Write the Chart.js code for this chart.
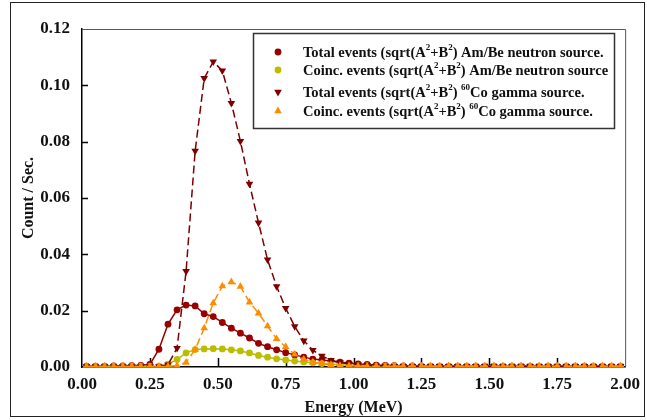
<!DOCTYPE html>
<html>
<head>
<meta charset="utf-8">
<script src="https://cdn.jsdelivr.net/npm/chart.js@4.4.0/dist/chart.umd.min.js"></script>
<style>
  html, body { margin: 0; padding: 0; background: #fff; }
  #wrap { width: 647px; height: 420px; position: relative; }
</style>
</head>
<body>
<div id="wrap"><canvas id="spec"></canvas></div>
<script>
// energy bins (MeV)
const energy = [
  0.0167, 0.05, 0.0833, 0.1167, 0.15, 0.1833, 0.2167, 0.25, 0.2833, 0.3167,
  0.35, 0.3833, 0.4167, 0.45, 0.4833, 0.5167, 0.55, 0.5833, 0.6167, 0.65,
  0.6833, 0.7167, 0.75, 0.7833, 0.8167, 0.85, 0.8833, 0.9167, 0.95, 0.9833,
  1.0167, 1.05, 1.0833, 1.1167, 1.15, 1.1833, 1.2167, 1.25, 1.2833, 1.3167,
  1.35, 1.3833, 1.4167, 1.45, 1.4833, 1.5167, 1.55, 1.5833, 1.6167, 1.65,
  1.6833, 1.7167, 1.75, 1.7833, 1.8167, 1.85, 1.8833, 1.9167, 1.95, 1.9833
];

const totalAmBe = [
  0.0003, 0.0003, 0.0003, 0.0004, 0.0004, 0.0005, 0.0006, 0.0009, 0.0063, 0.0152,
  0.0203, 0.0220, 0.0217, 0.0189, 0.0179, 0.0158, 0.0138, 0.0120, 0.0103, 0.0084,
  0.0072, 0.0061, 0.0051, 0.0043, 0.0035, 0.0028, 0.0025, 0.0021, 0.0017, 0.0014,
  0.0011, 0.0009, 0.0007, 0.0006, 0.0005, 0.0004, 0.0004, 0.0003, 0.0003, 0.0003,
  0.0003, 0.0003, 0.0003, 0.0003, 0.0003, 0.0003, 0.0003, 0.0003, 0.0003, 0.0003,
  0.0003, 0.0003, 0.0003, 0.0003, 0.0003, 0.0003, 0.0003, 0.0003, 0.0003, 0.0003
];

const coincAmBe = [
  0.0002, 0.0002, 0.0002, 0.0002, 0.0002, 0.0002, 0.0002, 0.0002, 0.0003, 0.0010,
  0.0027, 0.0050, 0.0062, 0.0064, 0.0065, 0.0064, 0.0061, 0.0057, 0.0050, 0.0041,
  0.0035, 0.0029, 0.0025, 0.0021, 0.0018, 0.0015, 0.0012, 0.0010, 0.0008, 0.0006,
  0.0005, 0.0004, 0.0003, 0.0003, 0.0003, 0.0003, 0.0003, 0.0003, 0.0003, 0.0003,
  0.0003, 0.0003, 0.0003, 0.0003, 0.0003, 0.0003, 0.0003, 0.0003, 0.0003, 0.0003,
  0.0003, 0.0003, 0.0003, 0.0003, 0.0003, 0.0003, 0.0003, 0.0003, 0.0003, 0.0003
];

const totalCo = [
  0.0002, 0.0002, 0.0002, 0.0002, 0.0002, 0.0002, 0.0002, 0.0002, 0.0002, 0.0008,
  0.0067, 0.0340, 0.0767, 0.1025, 0.1084, 0.1052, 0.0937, 0.0802, 0.0650, 0.0512,
  0.0381, 0.0286, 0.0209, 0.0144, 0.0093, 0.0060, 0.0039, 0.0024, 0.0016, 0.0011,
  0.0008, 0.0006, 0.0005, 0.0004, 0.0003, 0.0003, 0.0003, 0.0003, 0.0003, 0.0003,
  0.0003, 0.0003, 0.0003, 0.0003, 0.0003, 0.0003, 0.0003, 0.0003, 0.0003, 0.0003,
  0.0003, 0.0003, 0.0003, 0.0003, 0.0003, 0.0003, 0.0003, 0.0003, 0.0003, 0.0003
];

const coincCo = [
  0.0002, 0.0002, 0.0002, 0.0002, 0.0002, 0.0002, 0.0002, 0.0002, 0.0002, 0.0002,
  0.0005, 0.0016, 0.0062, 0.0138, 0.0227, 0.0287, 0.0302, 0.0286, 0.0230, 0.0191,
  0.0145, 0.0100, 0.0072, 0.0045, 0.0027, 0.0017, 0.0012, 0.0008, 0.0005, 0.0004,
  0.0003, 0.0003, 0.0003, 0.0003, 0.0003, 0.0003, 0.0003, 0.0003, 0.0003, 0.0003,
  0.0003, 0.0003, 0.0003, 0.0003, 0.0003, 0.0003, 0.0003, 0.0003, 0.0003, 0.0003,
  0.0003, 0.0003, 0.0003, 0.0003, 0.0003, 0.0003, 0.0003, 0.0003, 0.0003, 0.0003
];

const seriesNames = [
  'Total events (sqrt(A²+B²) Am/Be neutron source.',
  'Coinc. events (sqrt(A²+B²) Am/Be neutron source',
  'Total events (sqrt(A²+B²) ⁶⁰Co gamma source.',
  'Coinc. events (sqrt(A²+B²) ⁶⁰Co gamma source.'
];

const xTickValues = [0, 0.25, 0.5, 0.75, 1, 1.25, 1.5, 1.75, 2];
const yTickValues = [0, 0.02, 0.04, 0.06, 0.08, 0.1, 0.12];

const FONT = '"Liberation Serif", "Times New Roman", serif';

function pts(vals) {
  return vals.map((v, i) => ({ x: energy[i], y: v }));
}

const styles = [
  { color: '#980000', style: 'circle', rot: 0, r: 3.4, dash: [], order: 3 },
  { color: '#bcbc00', style: 'circle', rot: 0, r: 3.4, dash: [], order: 2 },
  { color: '#7d0000', style: 'triangle', rot: 180, r: 4.4, dash: [8, 4], order: 1 },
  { color: '#ff8c00', style: 'triangle', rot: 0, r: 4.4, dash: [8, 4], order: 0 }
];

const allSeries = [totalAmBe, coincAmBe, totalCo, coincCo];

const datasets = allSeries.map((vals, k) => ({
  label: seriesNames[k],
  data: pts(vals),
  borderColor: styles[k].color,
  backgroundColor: styles[k].color,
  borderWidth: 1.5,
  borderDash: styles[k].dash,
  pointStyle: styles[k].style,
  rotation: styles[k].rot,
  pointRadius: styles[k].r,
  pointBorderWidth: 0,
  tension: 0,
  order: styles[k].order
}));

// draw text where unicode superscripts are raised and smaller
const supMap = { '²': '2', '⁶': '6', '⁰': '0' };
function drawRich(ctx, text, x, y) {
  const parts = text.split(/([²⁶⁰]+)/).filter(s => s.length);
  let cx = x;
  parts.forEach(p => {
    if (/^[²⁶⁰]+$/.test(p)) {
      const t = p.split('').map(c => supMap[c]).join('');
      ctx.font = 'bold 9px ' + FONT;
      ctx.fillText(t, cx, y - 5);
      cx += ctx.measureText(t).width;
    } else {
      ctx.font = 'bold 14.5px ' + FONT;
      ctx.fillText(p, cx, y);
      cx += ctx.measureText(p).width;
    }
  });
}

const decor = {
  id: 'decor',
  beforeDatasetsDraw(chart) {
    const { ctx, chartArea: a, scales: { x, y } } = chart;
    ctx.save();
    ctx.strokeStyle = '#555';
    ctx.lineWidth = 1;
    ctx.beginPath();
    ctx.moveTo(a.left, a.top + 0.5);
    ctx.lineTo(a.right + 0.5, a.top + 0.5);
    ctx.lineTo(a.right + 0.5, a.bottom);
    ctx.stroke();
    // inward tick marks
    ctx.strokeStyle = '#000';
    ctx.lineWidth = 1.5;
    ctx.beginPath();
    xTickValues.slice(1, -1).forEach(v => {
      const px = Math.round(x.getPixelForValue(v)) + 0.5;
      ctx.moveTo(px, a.bottom);
      ctx.lineTo(px, a.bottom - 9);
    });
    yTickValues.slice(1, -1).forEach(v => {
      const py = Math.round(y.getPixelForValue(v)) + 0.5;
      ctx.moveTo(a.left, py);
      ctx.lineTo(a.left + 6, py);
    });
    ctx.stroke();
    ctx.restore();
  },
  afterDraw(chart) {
    const ctx = chart.ctx;
    ctx.save();
    // legend box
    ctx.fillStyle = '#fff';
    ctx.fillRect(253, 33, 361, 96);
    ctx.strokeStyle = '#333';
    ctx.lineWidth = 1.5;
    ctx.strokeRect(253.5, 33.5, 361, 95);
    const rowY = [52, 70, 92, 111];
    chart.data.datasets.forEach((ds, k) => {
      const st = styles[k];
      ctx.fillStyle = st.color;
      if (st.style === 'circle') {
        ctx.beginPath();
        ctx.arc(278, rowY[k], 3.4, 0, Math.PI * 2);
        ctx.fill();
      } else {
        const r = 4.4, cy = rowY[k];
        const dir = st.rot === 180 ? 1 : -1;
        ctx.beginPath();
        ctx.moveTo(278, cy + dir * r);
        ctx.lineTo(278 - r * 0.866, cy - dir * r * 0.5);
        ctx.lineTo(278 + r * 0.866, cy - dir * r * 0.5);
        ctx.closePath();
        ctx.fill();
      }
      ctx.fillStyle = '#111';
      ctx.textBaseline = 'middle';
      ctx.textAlign = 'left';
      drawRich(ctx, ds.label, 303, rowY[k] + 1);
    });
    // outer frame
    ctx.strokeStyle = '#222';
    ctx.lineWidth = 1;
    ctx.strokeRect(10.5, 2.5, 634, 414);
    ctx.restore();
  }
};

new Chart(document.getElementById('spec'), {
  type: 'line',
  data: { datasets: datasets },
  options: {
    responsive: true,
    maintainAspectRatio: false,
    animation: false,
    layout: { padding: { left: 0, top: 29, right: 18, bottom: 0 } },
    plugins: {
      legend: { display: false },
      tooltip: { enabled: false }
    },
    scales: {
      x: {
        type: 'linear',
        min: 0,
        max: 2,
        afterFit(s) { s.height = 53; },
        afterBuildTicks(s) { s.ticks = xTickValues.map(v => ({ value: v })); },
        grid: { drawOnChartArea: false, drawTicks: false },
        border: { display: true, color: '#000', width: 1.5 },
        ticks: {
          padding: 7,
          color: '#111',
          font: { family: FONT, size: 17, weight: 'bold' },
          maxRotation: 0,
          callback: v => Number(v).toFixed(2)
        },
        title: {
          display: true,
          text: 'Energy (MeV)',
          color: '#111',
          font: { family: FONT, size: 16, weight: 'bold' },
          padding: { top: 0, bottom: 3 }
        }
      },
      y: {
        min: 0,
        max: 0.12,
        afterFit(s) { s.width = 82; },
        afterBuildTicks(s) { s.ticks = yTickValues.map(v => ({ value: v })); },
        grid: { drawOnChartArea: false, drawTicks: false },
        border: { display: true, color: '#000', width: 1.5 },
        ticks: {
          padding: 12,
          color: '#111',
          font: { family: FONT, size: 17, weight: 'bold' },
          callback: v => Number(v).toFixed(2)
        },
        title: {
          display: true,
          text: 'Count / Sec.',
          color: '#111',
          font: { family: FONT, size: 16, weight: 'bold' },
          padding: { top: 19, bottom: 0 }
        }
      }
    }
  },
  plugins: [decor]
});
</script>
</body>
</html>
